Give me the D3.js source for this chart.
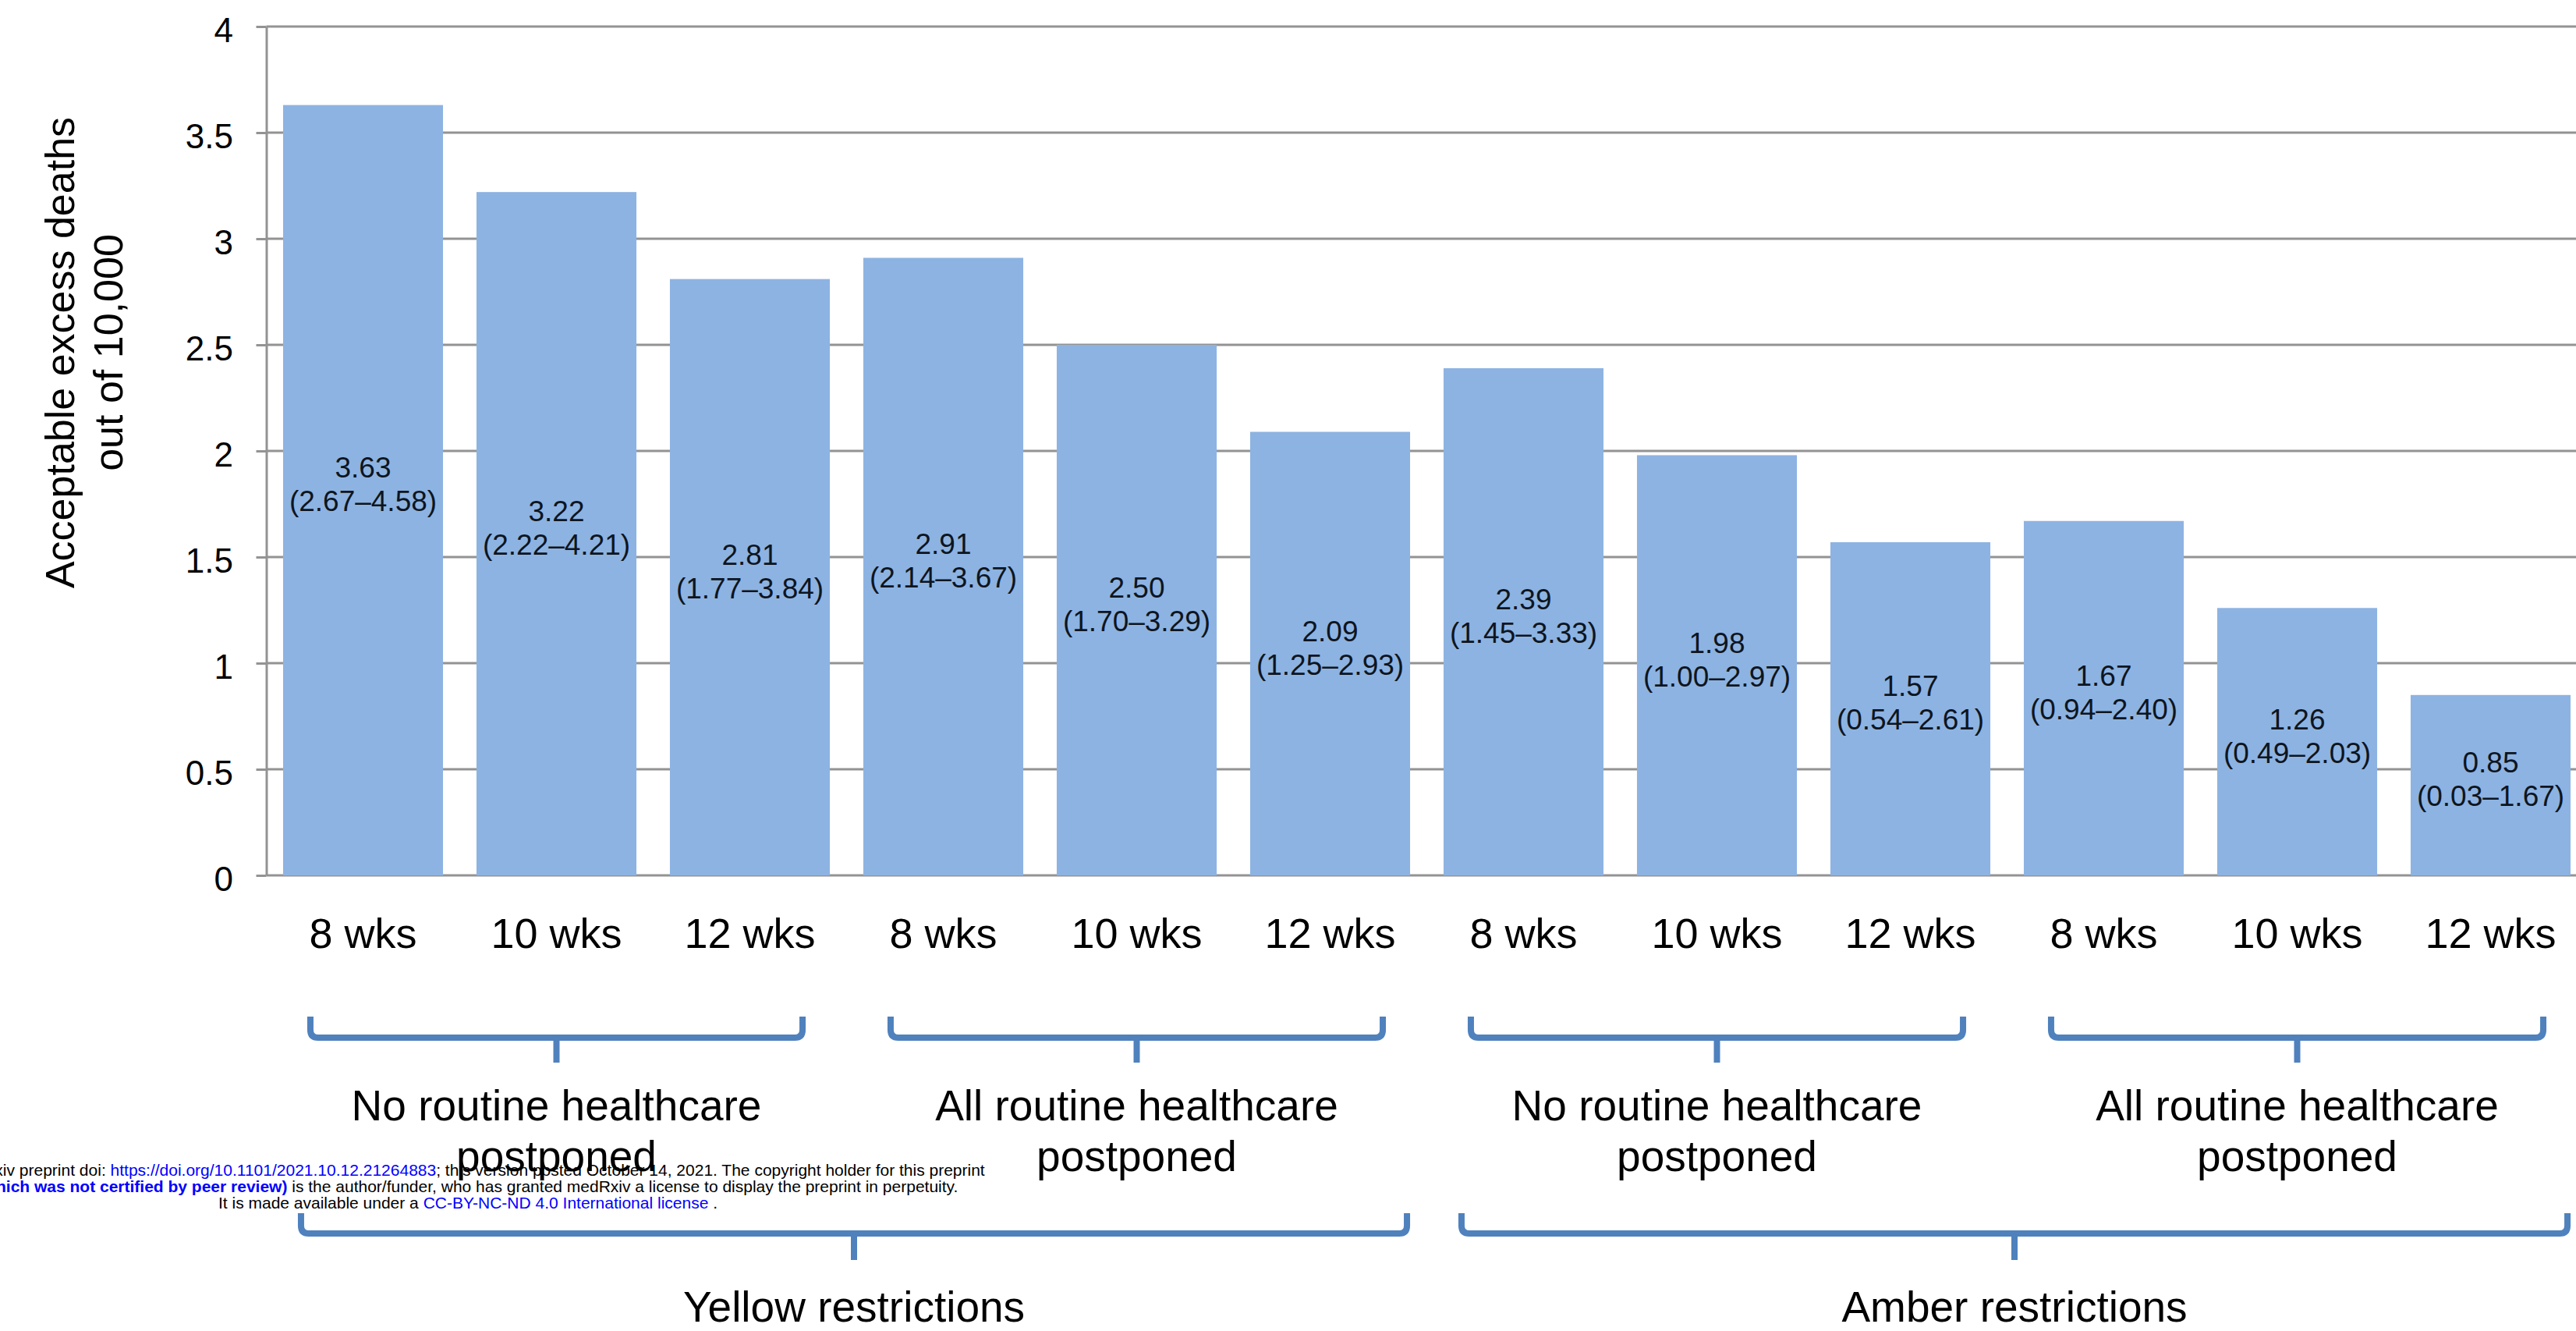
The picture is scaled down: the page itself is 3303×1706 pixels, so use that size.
<!DOCTYPE html>
<html>
<head>
<meta charset="utf-8">
<script src="https://cdn.jsdelivr.net/npm/d3@7/dist/d3.min.js"></script>
<style>
  body { margin: 0; background: #fff; }
  svg { display: block; font-family: "Liberation Sans", Arial, Helvetica, sans-serif; }
</style>
</head>
<body>
<div id="chart"></div>
<script>
// data
const durations = ["8 wks", "10 wks", "12 wks", "8 wks", "10 wks", "12 wks",
                   "8 wks", "10 wks", "12 wks", "8 wks", "10 wks", "12 wks"];
const values = [3.63, 3.22, 2.81, 2.91, 2.50, 2.09, 2.39, 1.98, 1.57, 1.67, 1.26, 0.85];
const intervals = ["(2.67–4.58)", "(2.22–4.21)", "(1.77–3.84)", "(2.14–3.67)",
                   "(1.70–3.29)", "(1.25–2.93)", "(1.45–3.33)", "(1.00–2.97)",
                   "(0.54–2.61)", "(0.94–2.40)", "(0.49–2.03)", "(0.03–1.67)"];
const yTicks = [0, 0.5, 1, 1.5, 2, 2.5, 3, 3.5, 4];
const yTitle = ["Acceptable excess deaths", "out of 10,000"];

// bracket groups: first/last bar index
const healthcareGroups = [
  { label: ["No routine healthcare", "postponed"], first: 0, last: 2 },
  { label: ["All routine healthcare", "postponed"], first: 3, last: 5 },
  { label: ["No routine healthcare", "postponed"], first: 6, last: 8 },
  { label: ["All routine healthcare", "postponed"], first: 9, last: 11 }
];
const restrictionGroups = [
  { label: "Yellow restrictions", first: 0, last: 5 },
  { label: "Amber restrictions", first: 6, last: 11 }
];

const W = 3303, H = 1706;
const gridColor = "#939393", barColor = "#8db3e2", bracketColor = "#4f81bd";

const svg = d3.select("#chart").append("svg")
    .attr("width", W)
    .attr("height", H);

// scales
const x = d3.scaleBand()
    .domain(d3.range(values.length))
    .range([341.5, 341.5 + 12 * 248])
    .paddingInner(0.173)
    .paddingOuter(0.0865);

const y = d3.scaleLinear()
    .domain([0, 4])
    .range([1122, 34]);

// gridlines
svg.append("g")
    .selectAll("line")
    .data(yTicks)
    .enter().append("line")
    .attr("x1", 341.5)
    .attr("x2", W)
    .attr("y1", d => y(d))
    .attr("y2", d => y(d))
    .attr("stroke", gridColor)
    .attr("stroke-width", 3);

// y axis
const yAxis = svg.append("g")
    .attr("transform", "translate(341.5,0)")
    .call(d3.axisLeft(y).tickValues(yTicks).tickSize(13).tickSizeOuter(0).tickPadding(29.5)
        .tickFormat(d3.format("")));
yAxis.select(".domain").attr("stroke", gridColor).attr("stroke-width", 3);
yAxis.selectAll(".tick line").attr("stroke", gridColor).attr("stroke-width", 3);
yAxis.selectAll(".tick text")
    .attr("dy", "0.45em")
    .style("font-size", "44px")
    .style("font-family", "'Liberation Sans', Arial, sans-serif")
    .attr("fill", "#000");

// y title
const yt = svg.append("text")
    .attr("transform", "translate(0,452) rotate(-90)")
    .attr("text-anchor", "middle")
    .style("font-size", "52px")
    .attr("fill", "#000");
yt.selectAll("tspan")
    .data(yTitle)
    .enter().append("tspan")
    .attr("x", 0)
    .attr("y", (d, i) => 95 + i * 62)
    .text(d => d);

// bars
svg.append("g")
    .selectAll("rect")
    .data(values)
    .enter().append("rect")
    .attr("x", (d, i) => x(i))
    .attr("y", d => y(d))
    .attr("width", x.bandwidth())
    .attr("height", d => y(0) - y(d))
    .attr("fill", barColor);

// value labels
const vl = svg.append("g")
    .selectAll("text")
    .data(values)
    .enter().append("text")
    .attr("text-anchor", "middle")
    .style("font-size", "37px")
    .attr("fill", "#0d1520");
vl.append("tspan")
    .attr("x", (d, i) => x(i) + x.bandwidth() / 2)
    .attr("y", d => (y(d) + y(0)) / 2 - 16)
    .text(d => d.toFixed(2));
vl.append("tspan")
    .attr("x", (d, i) => x(i) + x.bandwidth() / 2)
    .attr("y", d => (y(d) + y(0)) / 2 + 27)
    .text((d, i) => intervals[i]);

// x tick labels
svg.append("g")
    .selectAll("text")
    .data(durations)
    .enter().append("text")
    .attr("x", (d, i) => x(i) + x.bandwidth() / 2)
    .attr("y", 1215)
    .attr("text-anchor", "middle")
    .style("font-size", "54px")
    .attr("fill", "#000")
    .text(d => d);

// brackets
function bracket(x0, x1, yTop, yMid, yTip, r) {
  const cx = (x0 + x1) / 2;
  return `M${x0},${yTop}V${yMid - r}Q${x0},${yMid} ${x0 + r},${yMid}` +
         `H${x1 - r}Q${x1},${yMid} ${x1},${yMid - r}V${yTop}` +
         `M${cx},${yMid}V${yTip}`;
}

const lvl1 = healthcareGroups.map(g => {
  const x0 = x(g.first) + 35, x1 = x(g.last) + x.bandwidth() - 35;
  return { ...g, x0, x1, cx: (x0 + x1) / 2 };
});
svg.append("g")
    .selectAll("path")
    .data(lvl1)
    .enter().append("path")
    .attr("d", d => bracket(d.x0, d.x1, 1303, 1330, 1362, 10))
    .attr("fill", "none")
    .attr("stroke", bracketColor)
    .attr("stroke-width", 8);

const gl = svg.append("g")
    .selectAll("text")
    .data(lvl1)
    .enter().append("text")
    .attr("text-anchor", "middle")
    .style("font-size", "55px")
    .attr("fill", "#000");
gl.selectAll("tspan")
    .data(d => d.label.map(t => ({ t, cx: d.cx })))
    .enter().append("tspan")
    .attr("x", d => d.cx)
    .attr("y", (d, i) => 1436 + i * 65)
    .text(d => d.t);

const lvl2 = restrictionGroups.map(g => {
  const x0 = x(g.first) + 23, x1 = x(g.last) + x.bandwidth() - 4;
  return { ...g, x0, x1, cx: (x0 + x1) / 2 };
});
svg.append("g")
    .selectAll("path")
    .data(lvl2)
    .enter().append("path")
    .attr("d", d => bracket(d.x0, d.x1, 1555, 1581, 1615, 10))
    .attr("fill", "none")
    .attr("stroke", bracketColor)
    .attr("stroke-width", 8);

svg.append("g")
    .selectAll("text")
    .data(lvl2)
    .enter().append("text")
    .attr("x", d => d.cx)
    .attr("y", 1694)
    .attr("text-anchor", "middle")
    .style("font-size", "55px")
    .attr("fill", "#000")
    .text(d => d.label);

// preprint notice overlay
const notice = [
  [["medRxiv preprint doi: ", "#000", "normal"],
   ["https://doi.org/10.1101/2021.10.12.21264883", "#0000ff", "normal"],
   ["; this version posted October 14, 2021. The copyright holder for this preprint", "#000", "normal"]],
  [["(which was not certified by peer review)", "#0000ff", "bold"],
   [" is the author/funder, who has granted medRxiv a license to display the preprint in perpetuity.", "#000", "normal"]],
  [["It is made available under a ", "#000", "normal"],
   ["CC-BY-NC-ND 4.0 International license", "#0000ff", "normal"],
   [" .", "#000", "normal"]]
];
const nt = svg.append("g")
    .selectAll("text")
    .data(notice)
    .enter().append("text")
    .attr("x", 600)
    .attr("y", (d, i) => 1507 + i * 21)
    .attr("text-anchor", "middle")
    .style("font-size", "21px");
nt.selectAll("tspan")
    .data(d => d)
    .enter().append("tspan")
    .attr("fill", d => d[1])
    .style("font-weight", d => d[2])
    .text(d => d[0]);
</script>
</body>
</html>
